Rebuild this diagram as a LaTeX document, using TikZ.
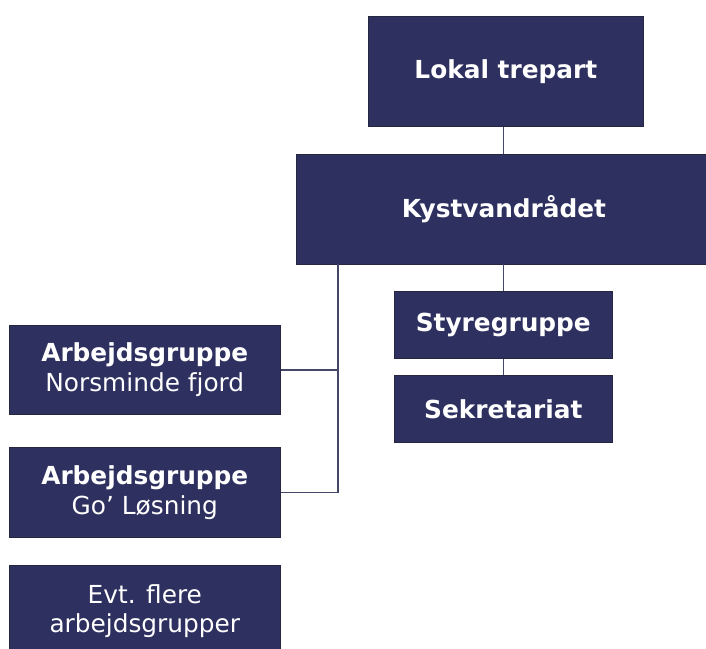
\documentclass[tikz,border=0pt]{standalone}
\usepackage{fontspec}
\setmainfont{DejaVu Sans}
\definecolor{boxfill}{HTML}{2E3060}
\definecolor{boxline}{HTML}{25263F}
\definecolor{conn}{HTML}{444866}
\tikzset{
  orgbox/.style={draw=boxline, line width=0.8pt, fill=boxfill, text=white, align=center,
    inner sep=0pt, font=\fontsize{24.8}{29.5}\selectfont},
  orgline/.style={draw=conn, line width=1.5pt}
}
\begin{document}
\begin{tikzpicture}[x=1pt,y=-1pt]
\useasboundingbox (0,0) rectangle (706,648);
\clip (0,0) rectangle (706,648);
\node[orgbox, minimum width=275pt, minimum height=110pt] (lokal) at (505.8,71.5) {\textbf{Lokal trepart}};
\node[orgbox, minimum width=416pt, minimum height=110pt] (kyst) at (504,209) {\textbf{Kystvandrådet}};
\node[orgbox, minimum width=218.7pt, minimum height=67pt] (styre) at (503.3,325.2) {\textbf{Styregruppe}};
\node[orgbox, minimum width=218.7pt, minimum height=66.6pt] (sekr) at (503.3,409) {\textbf{Sekretariat}};
\node[orgbox, minimum width=271.7pt, minimum height=89pt] (arb1) at (144.8,369.8) {\textbf{Arbejdsgruppe}\\Norsminde fjord};
\node[orgbox, minimum width=271.7pt, minimum height=89.6pt] (arb2) at (144.8,492.5) {\textbf{Arbejdsgruppe}\\Go’ Løsning};
\node[orgbox, minimum width=271.7pt, minimum height=92pt] (evt) at (144.8,611) {Evt. flere\\arbejdsgrupper};
\coordinate (j) at (337.8,300);
\draw[orgline] (lokal.south -| styre.north) -- (kyst.north -| styre.north);
\draw[orgline] (kyst.south -| styre.north) -- (styre.north);
\draw[orgline] (styre.south) -- (sekr.north);
\draw[orgline] (kyst.south -| j) -- (arb2.east -| j) -- (arb2.east);
\draw[orgline] (arb1.east) -- (arb1.east -| j);
\end{tikzpicture}
\end{document}
